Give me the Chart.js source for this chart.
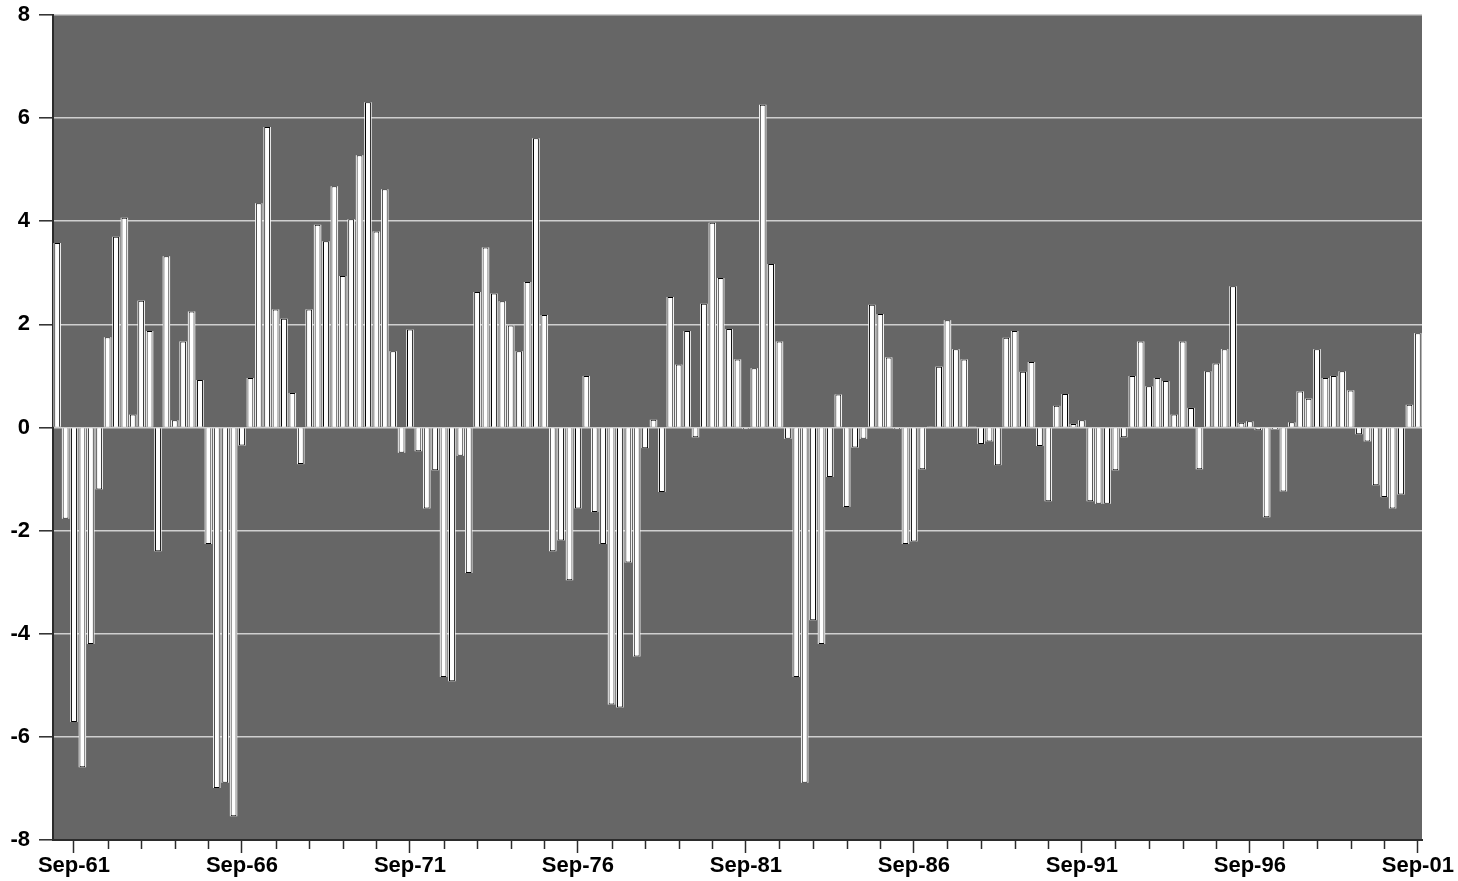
<!DOCTYPE html>
<html>
<head>
<meta charset="utf-8">
<script src="https://cdn.jsdelivr.net/npm/chart.js@4.4.0/dist/chart.umd.min.js"></script>
<style>
  html, body { margin: 0; padding: 0; background: #ffffff; }
  #wrap { width: 1458px; height: 881px; position: relative; }
</style>
</head>
<body>
<div id="wrap"><canvas id="chart"></canvas></div>
<script>
// Quarterly categories, Mar-61 through Sep-01
const quarterMonths = ['Mar', 'Jun', 'Sep', 'Dec'];
const firstYear = 1961;
const lastYear = 2001;
const lastMonth = 'Sep';

const categories = [];
for (let y = firstYear; y <= lastYear; y++) {
  for (const m of quarterMonths) {
    categories.push(m + '-' + String(y % 100).padStart(2, '0'));
    if (y === lastYear && m === lastMonth) break;
  }
}

// Quarterly values, grouped by period
const values1961to1965 = [
  3.58, -1.77, -5.71, -6.59, -4.20, -1.20, 1.75, 3.70, 4.07, 0.25,
  2.46, 1.87, -2.40, 3.32, 0.14, 1.67, 2.25, 0.92, -2.26, -6.99
];
const values1966to1970 = [
  -6.89, -7.54, -0.35, 0.96, 4.35, 5.83, 2.29, 2.11, 0.67, -0.71,
  2.29, 3.93, 3.61, 4.68, 2.94, 4.04, 5.28, 6.31, 3.80, 4.62
];
const values1971to1975 = [
  1.48, -0.49, 1.90, -0.46, -1.57, -0.83, -4.84, -4.92, -0.55, -2.82,
  2.63, 3.49, 2.60, 2.45, 1.98, 1.48, 2.82, 5.61, 2.18, -2.40
];
const values1976to1980 = [
  -2.19, -2.96, -1.57, 1.00, -1.64, -2.26, -5.37, -5.43, -2.62, -4.44,
  -0.40, 0.15, -1.25, 2.53, 1.22, 1.87, -0.19, 2.40, 3.97, 2.90
];
const values1981to1985 = [
  1.91, 1.32, -0.03, 1.15, 6.26, 3.17, 1.67, -0.22, -4.84, -6.89,
  -3.74, -4.20, -0.96, 0.64, -1.54, -0.39, -0.22, 2.38, 2.20, 1.36
];
const values1986to1990 = [
  -0.03, -2.26, -2.21, -0.81, 0.02, 1.18, 2.08, 1.52, 1.32, 0.01,
  -0.32, -0.27, -0.73, 1.74, 1.87, 1.08, 1.27, -0.36, -1.43, 0.42
];
const values1991to1995 = [
  0.65, 0.07, 0.14, -1.43, -1.48, -1.48, -0.83, -0.19, 1.00, 1.67,
  0.80, 0.96, 0.90, 0.25, 1.67, 0.38, -0.81, 1.09, 1.24, 1.52
];
const values1996to2001 = [
  2.74, 0.09, 0.12, -0.05, -1.74, -0.04, -1.24, 0.10, 0.70, 0.56,
  1.52, 0.96, 1.00, 1.09, 0.72, -0.13, -0.27, -1.12, -1.35, -1.57,
  -1.30, 0.44, 1.83
];

const values = [].concat(
  values1961to1965, values1966to1970, values1971to1975, values1976to1980,
  values1981to1985, values1986to1990, values1991to1995, values1996to2001
);

// Axis settings
const yMin = -8, yMax = 8, yStep = 2;
const labelEvery = 20;   // one labelled tick every 5 years
const minorEvery = 4;    // one small tick every year
const firstSepIndex = 2; // Sep-61

const FONT = { family: '"Liberation Sans", Arial, sans-serif', size: 22, weight: 'bold' };
const AXIS_COLOR = '#2b2b2b';

// Dark plot background
const plotBackground = {
  id: 'plotBackground',
  beforeDraw(chart) {
    const { ctx, chartArea: a } = chart;
    ctx.save();
    ctx.fillStyle = '#666666';
    ctx.fillRect(a.left, a.top, a.right - a.left, a.bottom - a.top);
    ctx.restore();
  }
};

// Short yearly ticks under the category axis
const minorTicks = {
  id: 'minorTicks',
  afterDraw(chart) {
    const x = chart.scales.x;
    const { ctx } = chart;
    ctx.save();
    ctx.strokeStyle = AXIS_COLOR;
    ctx.lineWidth = 1.5;
    for (let i = 0; i < categories.length; i++) {
      const k = i - firstSepIndex;
      if (k % minorEvery !== 0 || k % labelEvery === 0) continue;
      const px = Math.round(x.getPixelForValue(i)) + 0.5;
      ctx.beginPath();
      ctx.moveTo(px, x.top);
      ctx.lineTo(px, x.top + 9);
      ctx.stroke();
    }
    ctx.restore();
  }
};

new Chart(document.getElementById('chart'), {
  type: 'bar',
  data: {
    labels: categories,
    datasets: [
      {
        data: values,
        backgroundColor: '#ffffff',
        borderColor: '#000000',
        borderWidth: 1,
        barPercentage: 0.7,
        categoryPercentage: 1,
        grouped: false,
        order: 0
      },
      {
        data: values,
        backgroundColor: '#ffffff',
        borderWidth: 0,
        barPercentage: 0.88,
        categoryPercentage: 1,
        grouped: false,
        order: 1
      }
    ]
  },
  options: {
    responsive: true,
    maintainAspectRatio: false,
    animation: false,
    layout: { padding: { top: 15, right: 36, bottom: 0, left: 0 } },
    plugins: { legend: { display: false }, tooltip: { enabled: false } },
    scales: {
      x: {
        type: 'category',
        offset: true,
        afterFit(scale) { scale.height = 41; },
        border: { display: true, color: AXIS_COLOR, width: 2 },
        grid: {
          display: true,
          drawOnChartArea: false,
          drawTicks: true,
          offset: false,
          tickLength: 13,
          tickWidth: 1.5,
          tickColor: (ctx) => ((ctx.index - firstSepIndex) % labelEvery === 0 ? AXIS_COLOR : 'rgba(0,0,0,0)')
        },
        ticks: {
          autoSkip: false,
          maxRotation: 0,
          minRotation: 0,
          padding: 0,
          color: '#000000',
          font: FONT,
          callback: (val, idx) => ((idx - firstSepIndex) % labelEvery === 0 ? categories[idx] : '')
        }
      },
      y: {
        min: yMin,
        max: yMax,
        afterFit(scale) {
          scale.width = 53;
          scale.paddingTop = 0;
          scale.paddingBottom = 0;
        },
        border: { display: true, color: AXIS_COLOR, width: 2 },
        grid: {
          color: (ctx) => (ctx.tick && (ctx.tick.value === yMin) ? 'rgba(0,0,0,0)' : '#cfcfcf'),
          lineWidth: 1.6,
          drawTicks: true,
          tickLength: 14,
          tickWidth: 1.5,
          tickColor: AXIS_COLOR
        },
        ticks: {
          stepSize: yStep,
          padding: 9,
          color: '#000000',
          font: FONT
        }
      }
    }
  },
  plugins: [plotBackground, minorTicks]
});
</script>
</body>
</html>
